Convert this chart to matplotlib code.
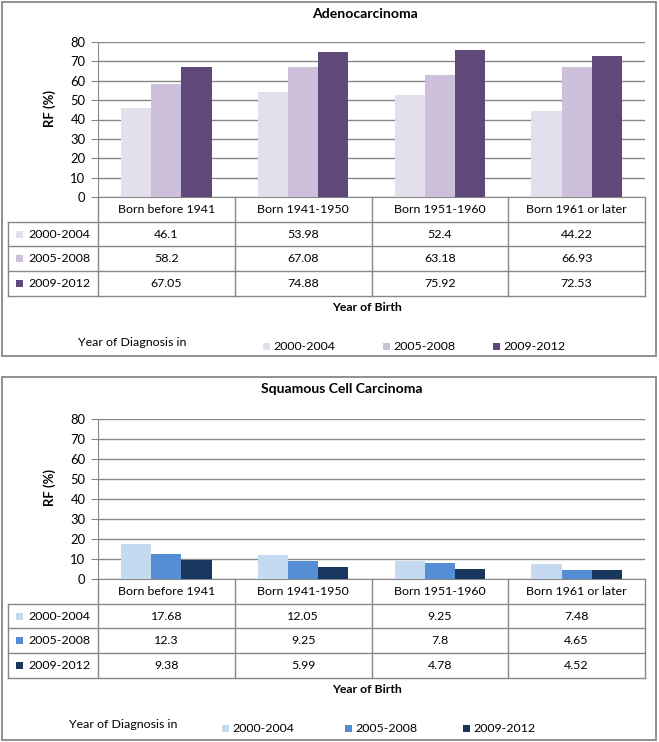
import numpy as np
import matplotlib
matplotlib.use("Agg")
import matplotlib.pyplot as plt
from matplotlib.patches import Rectangle

plt.rcParams['font.family'] = ['Lato', 'DejaVu Sans']

W, H = 659, 742

categories = ["Born before 1941", "Born 1941-1950", "Born 1951-1960", "Born 1961 or later"]
periods = ["2000-2004", "2005-2008", "2009-2012"]

adeno_values = [
    [46.1, 53.98, 52.4, 44.22],
    [58.2, 67.08, 63.18, 66.93],
    [67.05, 74.88, 75.92, 72.53],
]
adeno_labels = [
    ["46.1", "53.98", "52.4", "44.22"],
    ["58.2", "67.08", "63.18", "66.93"],
    ["67.05", "74.88", "75.92", "72.53"],
]
squam_values = [
    [17.68, 12.05, 9.25, 7.48],
    [12.3, 9.25, 7.8, 4.65],
    [9.38, 5.99, 4.78, 4.52],
]
squam_labels = [
    ["17.68", "12.05", "9.25", "7.48"],
    ["12.3", "9.25", "7.8", "4.65"],
    ["9.38", "5.99", "4.78", "4.52"],
]
yticks = [0, 10, 20, 30, 40, 50, 60, 70, 80]

adeno_colors = ["#E4DFEC", "#CCC0DA", "#60497A"]
squam_colors = ["#C5D9F1", "#558ED5", "#17375E"]
GRID = "#878787"

fig = plt.figure(figsize=(W / 100, H / 100), dpi=100)
renderer = fig.canvas.get_renderer()
bg = fig.add_axes([0, 0, 1, 1])
bg.set_xlim(0, W)
bg.set_ylim(H, 0)
bg.axis("off")


def fit(text, width_px, bold=False):
    # font size that gives the text roughly the width seen in the reference
    t = fig.text(0, 0, text, fontsize=10, fontweight="bold" if bold else "normal")
    w = t.get_window_extent(renderer).width
    t.remove()
    return 10 * width_px / w


FS_TAB = 0.5 * (fit("Born before 1941", 98) + fit("Year of Diagnosis in", 109))
FS_TICK = fit("80", 15)
FS_TITLE = fit("Adenocarcinoma", 106, True)
FS_YOB = fit("Year of Birth", 70, True)
FS_RF = fit("RF (%)", 37, True)


def panel(top, bottom, title, title_x, values, labels, colors, ax_top, ax_bot, leg_y, diag_x, leg_xs):
    # outer border
    bg.add_patch(Rectangle((2, top), 654, bottom - top, fill=False, ec=GRID, lw=1.3))
    bg.text(title_x, top + 12, title, ha="center", va="center", fontsize=FS_TITLE, fontweight="bold")

    x0, x1 = 98, 645
    ax = fig.add_axes([x0 / W, 1 - ax_bot / H, (x1 - x0) / W, (ax_bot - ax_top) / H])
    n = len(categories)
    x = np.arange(n)
    bw = 0.22
    for i, (vals, c) in enumerate(zip(values, colors)):
        ax.bar(x + (i - 1) * bw, vals, width=bw, color=c, zorder=3)
    ax.set_xlim(-0.5, n - 0.5)
    ax.set_ylim(0, 80)
    ax.set_yticks(yticks)
    ax.set_yticklabels([str(t) for t in yticks], fontsize=FS_TICK)
    ax.set_xticks([])
    ax.grid(axis="y", color=GRID, lw=1, zorder=0)
    for s in ["top", "right"]:
        ax.spines[s].set_visible(False)
    ax.spines["left"].set_color(GRID)
    ax.spines["bottom"].set_color(GRID)
    ax.tick_params(axis="y", length=5, color=GRID, pad=4)
    ax.patch.set_alpha(0)
    bg.text(50, (ax_top + ax_bot) / 2 - 11, "RF (%)", rotation=90, ha="center", va="center",
            fontsize=FS_RF, fontweight="bold")

    # data table below axes
    col_w = (x1 - x0) / n
    col_x = [x0 + k * col_w for k in range(n + 1)]
    row_h = 24.7
    rows_y = [ax_bot + k * row_h for k in range(5)]
    lk = dict(color=GRID, lw=1)
    for ry in rows_y[1:]:
        bg.plot([8, x1], [ry, ry], **lk)
    bg.plot([8, 8], [rows_y[1], rows_y[4]], **lk)
    for cx in col_x:
        bg.plot([cx, cx], [rows_y[0], rows_y[4]], **lk)
    for k, cat in enumerate(categories):
        bg.text(col_x[k] + col_w / 2, (rows_y[0] + rows_y[1]) / 2, cat,
                ha="center", va="center", fontsize=FS_TAB)
    for r in range(3):
        cy = (rows_y[r + 1] + rows_y[r + 2]) / 2
        bg.add_patch(Rectangle((16, cy - 3.5), 7, 7, color=colors[r], lw=0))
        bg.text(28, cy, periods[r], ha="left", va="center", fontsize=FS_TAB)
        for k in range(n):
            bg.text(col_x[k] + col_w / 2, cy, labels[r][k], ha="center", va="center", fontsize=FS_TAB)

    bg.text(367, rows_y[4] + 12, "Year of Birth", ha="center", va="center",
            fontsize=FS_YOB, fontweight="bold")
    bg.text(diag_x, leg_y - 4, "Year of Diagnosis in", ha="center", va="center", fontsize=FS_TAB)
    for r in range(3):
        lx = leg_xs[r]
        bg.add_patch(Rectangle((lx, leg_y - 3.5), 7, 7, color=colors[r], lw=0))
        bg.text(lx + 10, leg_y, periods[r], ha="left", va="center", fontsize=FS_TAB)


panel(2, 356, "Adenocarcinoma", 365, adeno_values, adeno_labels, adeno_colors,
      42, 197, 346, 132, [263, 383, 493])
panel(377, 740, "Squamous Cell Carcinoma", 342, squam_values, squam_labels, squam_colors,
      419, 579, 728, 123, [222, 345, 463])

fig.savefig("out.png", dpi=100)
